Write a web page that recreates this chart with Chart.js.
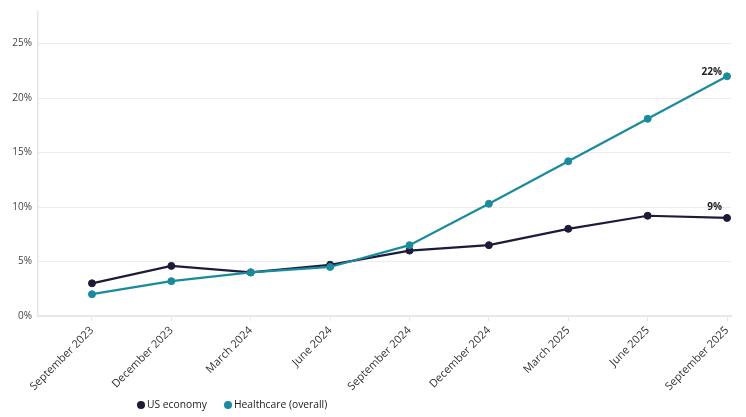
<!DOCTYPE html>
<html>
<head>
<meta charset="utf-8">
<script src="https://cdn.jsdelivr.net/npm/chart.js@4/dist/chart.umd.min.js"></script>
<style>
    html, body { margin: 0; padding: 0; background: #fff; }
    #wrap { position: relative; width: 746px; height: 417px; }
    #legend {
        position: absolute; left: 137px; top: 397px;
        font-family: 'Open Sans', sans-serif; font-size: 10.3px; color: #222;
        display: flex; gap: 17px; align-items: center;
    }
    #legend span.dot {
        display: inline-block; width: 8px; height: 8px; border-radius: 50%;
        margin-right: 2px; vertical-align: -1px;
    }
</style>
</head>
<body>
<div id="wrap">
    <canvas id="lineChart" width="746" height="417"></canvas>
    <div id="legend"></div>
</div>
<script>
const labels = ['September 2023', 'December 2023', 'March 2024', 'June 2024', 'September 2024',
    'December 2024', 'March 2025', 'June 2025', 'September 2025'];
const usEconomy = [3.0, 4.6, 4.0, 4.7, 6.0, 6.5, 8.0, 9.2, 9.0];
const healthcare = [2.0, 3.2, 4.0, 4.5, 6.5, 10.3, 14.2, 18.1, 22.0];
const seriesNames = ['US economy', 'Healthcare (overall)'];
const endLabels = ['9%', '22%'];

const navy = '#1e1a3a';
const teal = '#1a8b9d';
const font = "'Open Sans', sans-serif";

// x is the label index, so the linear axis can leave the gap on the left
const toPoints = arr => arr.map((v, i) => ({ x: i, y: v }));

// Small labels just up-left of the last point of each line
const endLabelPlugin = {
    id: 'endLabels',
    afterDatasetsDraw(chart) {
        const ctx = chart.ctx;
        const lift = [11, 4];
        ctx.save();
        ctx.font = 'bold 10px ' + font;
        ctx.fillStyle = '#222';
        ctx.textAlign = 'right';
        ctx.textBaseline = 'middle';
        chart.data.datasets.forEach((ds, i) => {
            const meta = chart.getDatasetMeta(i);
            const pt = meta.data[meta.data.length - 1];
            ctx.fillText(endLabels[i], pt.x - 5, pt.y - lift[i]);
        });
        ctx.restore();
    }
};

const chart = new Chart(document.getElementById('lineChart'), {
    type: 'line',
    data: {
        datasets: [{
            label: seriesNames[0],
            data: toPoints(usEconomy),
            borderColor: navy,
            backgroundColor: navy,
            borderWidth: 2.2,
            pointRadius: 3.5,
            pointBorderWidth: 1,
            pointHoverRadius: 3.5,
            order: 1
        }, {
            label: seriesNames[1],
            data: toPoints(healthcare),
            borderColor: teal,
            backgroundColor: teal,
            borderWidth: 2.2,
            pointRadius: 3.5,
            pointBorderWidth: 1,
            pointHoverRadius: 3.5,
            order: 0
        }]
    },
    options: {
        responsive: false,
        animation: false,
        layout: { padding: { top: 0, right: 15, left: 0, bottom: 0 } },
        scales: {
            x: {
                type: 'linear',
                min: -0.68,
                max: 8.05,
                afterBuildTicks: scale => {
                    scale.ticks = labels.map((_, i) => ({ value: i }));
                },
                afterFit: scale => { scale.height = 101; },
                ticks: {
                    callback: v => labels[v],
                    maxRotation: 45,
                    minRotation: 45,
                    color: '#333',
                    font: { family: font, size: 11 },
                    padding: 3
                },
                grid: {
                    drawOnChartArea: false,
                    drawTicks: true,
                    tickLength: 5,
                    color: '#e6e6e6'
                },
                border: { color: '#e6e6e6', width: 1.5 }
            },
            y: {
                min: 0,
                max: 27.9,
                afterFit: scale => { scale.width = 38; },
                ticks: {
                    stepSize: 5,
                    includeBounds: false,
                    callback: v => v + '%',
                    color: '#444',
                    font: { family: font, size: 10 },
                    padding: 6
                },
                grid: {
                    color: '#ebebeb',
                    drawTicks: false
                },
                border: { color: '#e6e6e6', width: 1.5 }
            }
        },
        plugins: {
            legend: { display: false },
            tooltip: { enabled: false }
        }
    },
    plugins: [endLabelPlugin]
});

// HTML legend below the chart
const legendEl = document.getElementById('legend');
[navy, teal].forEach((c, i) => {
    const item = document.createElement('div');
    item.innerHTML = '<span class="dot" style="background:' + c + '"></span>' + seriesNames[i];
    legendEl.appendChild(item);
});
</script>
</body>
</html>
